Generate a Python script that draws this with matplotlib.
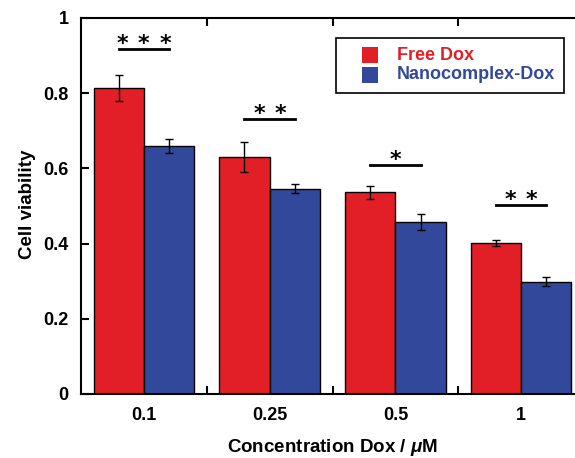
import matplotlib as mpl
import matplotlib.pyplot as plt
from matplotlib.patches import Rectangle
import numpy as np

mpl.use('Agg')
plt.rcParams['font.family'] = ['Liberation Sans', 'DejaVu Sans']
plt.rcParams['font.weight'] = 'bold'
plt.rcParams['mathtext.fontset'] = 'custom'
plt.rcParams['mathtext.it'] = 'Liberation Sans:italic:bold'
plt.rcParams['mathtext.rm'] = 'Liberation Sans:bold'

concentrations = ["0.1", "0.25", "0.5", "1"]
free_dox = [0.813, 0.630, 0.536, 0.401]
free_dox_err = [0.035, 0.040, 0.018, 0.008]
nano_dox = [0.660, 0.546, 0.457, 0.299]
nano_dox_err = [0.019, 0.012, 0.021, 0.011]
star_counts = [3, 2, 1, 2]
star_line_y = [0.917, 0.731, 0.609, 0.502]
series_names = ["Free Dox", "Nanocomplex-Dox"]

RED = '#e21e26'
BLUE = '#32489b'


def _plot() -> None:
    fig = plt.figure(figsize=(5.75, 4.58), dpi=100)
    ax = fig.add_axes([81 / 575, 64 / 458, 503 / 575, 376 / 458])

    x = np.arange(1, len(concentrations) + 1)
    w = 0.4
    err_kw = dict(ecolor='black', elinewidth=1.0, capsize=3, capthick=1.0)
    ax.bar(x - w / 2, free_dox, w, yerr=free_dox_err, color=RED,
           edgecolor='black', linewidth=1.0, error_kw=err_kw)
    ax.bar(x + w / 2, nano_dox, w, yerr=nano_dox_err, color=BLUE,
           edgecolor='black', linewidth=1.0, error_kw=err_kw)

    # significance marks
    step = 0.17
    for xi, n, ly in zip(x, star_counts, star_line_y):
        ax.plot([xi - w / 2, xi + w / 2], [ly, ly], color='black', lw=2)
        for k in range(n):
            sx = xi + (k - (n - 1) / 2) * step
            ax.text(sx, ly + 0.013, '*', ha='center', va='center', fontsize=16,
                    fontweight='bold', family='DejaVu Sans')

    ax.set_xlim(0.5, 4.5)
    ax.set_ylim(0, 1)
    ax.set_xticks(x)
    ax.set_xticklabels(concentrations)
    ax.set_xticks(x[:-1] + 0.5, minor=True)
    ax.set_yticks([0, 0.2, 0.4, 0.6, 0.8, 1])
    ax.set_yticklabels(["0", "0.2", "0.4", "0.6", "0.8", "1"])
    ax.tick_params(axis='x', which='major', length=0, pad=9, labelsize=13)
    ax.tick_params(axis='x', which='minor', direction='in', length=6,
                   width=1.5, top=True, bottom=True)
    ax.tick_params(axis='y', direction='in', length=6, width=1.5,
                   left=True, right=True, pad=9, labelsize=13)
    for sp in ax.spines.values():
        sp.set_linewidth(1.5)

    ax.set_ylabel('Cell viability', fontsize=13.5, fontweight='bold')
    ax.yaxis.set_label_coords(-0.09, 0.505)
    ax.set_xlabel(r'Concentration Dox / $\mathit{\mu}$M', fontsize=13.5,
                  fontweight='bold', labelpad=10)

    # legend box drawn by hand (text is offset to the right inside the frame)
    ax.add_patch(Rectangle((0.507, 0.8005), 0.453, 0.1465, transform=ax.transAxes,
                           facecolor='white', edgecolor='black', lw=1.2, zorder=5))
    row_y = [0.9015, 0.849]
    for name, col, ry in zip(series_names, [RED, BLUE], row_y):
        ax.add_patch(Rectangle((0.5577, ry - 0.021), 0.0318, 0.042,
                               transform=ax.transAxes, facecolor=col,
                               edgecolor='none', zorder=6))
        ax.text(0.628, ry, name, transform=ax.transAxes, color=col,
                fontsize=13, fontweight='bold', ha='left', va='center', zorder=6)

    fig.savefig('out.png', dpi=100)


if __name__ == '__main__':
    _plot()
